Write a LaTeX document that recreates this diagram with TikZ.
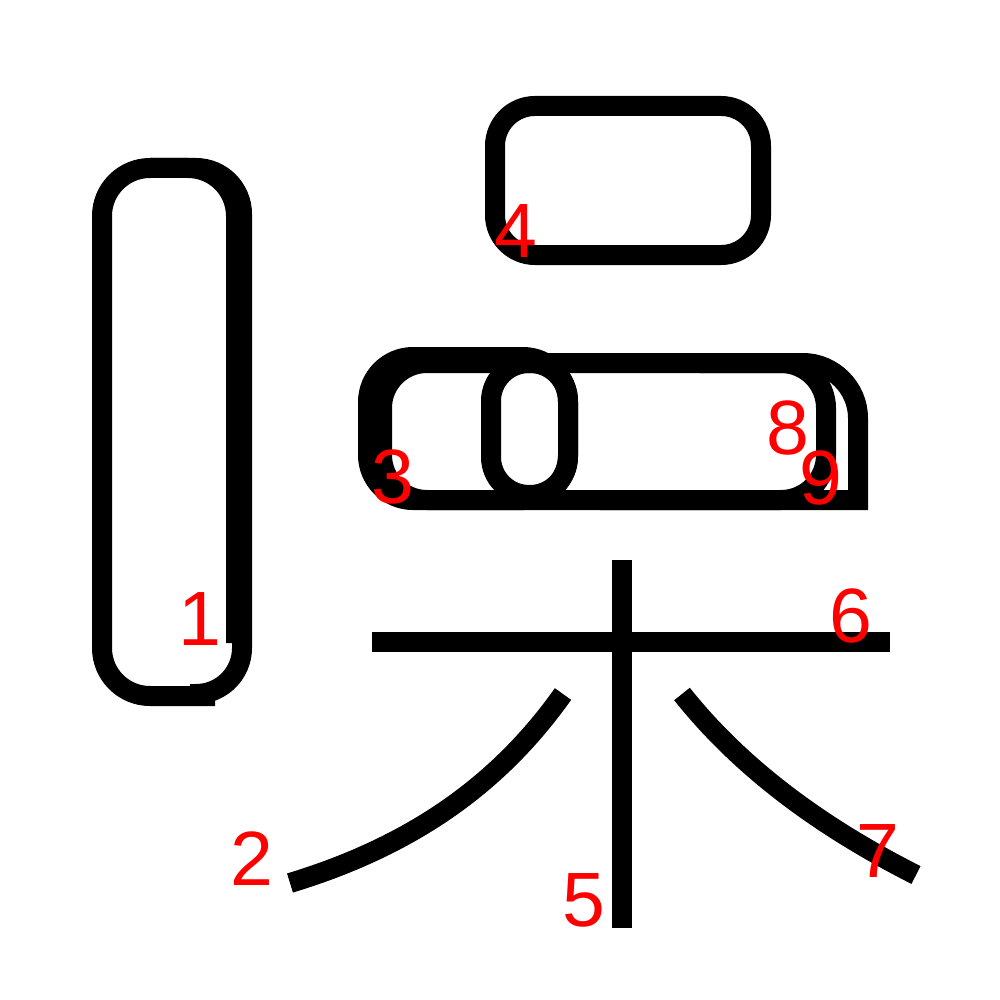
\documentclass[tikz,border=0pt]{standalone}
\usepackage{fontspec}
\setmainfont{Liberation Sans}
\begin{document}
\begin{tikzpicture}[x=1pt,y=-1pt,
  stk/.style={line width=20pt, line cap=butt, line join=miter, draw=black},
  num/.style={text=red, font=\fontsize{77}{77}\selectfont, inner sep=0pt, anchor=base}]
\useasboundingbox[fill=white] (0,0) rectangle (1000,1000);
% stroke 1 (left box)
\draw[stk, rounded corners=48] (236,643) -- (236,168) -- (102,168) -- (102,696) -- (215,696);
\draw[stk, rounded corners=46] (150,168) -- (242,168) -- (242,694) -- (190,694);
% stroke 4 (top box)
\draw[stk, rounded corners=40] (495,106) rectangle (761,255);
% strokes 3, 8, 9 (middle box)
\draw[stk, rounded corners=45] (368,357) rectangle (568,500);
\draw[stk, rounded corners=45] (382,363) rectangle (826,500);
\draw[stk, rounded corners=38] (491,363) rectangle (568,495);
\draw[stk] (700,363) -- (803,363) .. controls (833,363) and (858,388) .. (858,418) -- (858,500) -- (600,500);
% tree part
\draw[stk] (622,560) -- (622,928);
\draw[stk] (372,642) -- (890,642);
\draw[stk] (563,694) .. controls (495,790) and (405,848) .. (290,883);
\draw[stk] (682,694) .. controls (744,772) and (827,830) .. (916,875);
% labels
\node[num] (l1) at (200,645) {1};
\node[num] (l2) at (252,885) {2};
\node[num] (l3) at (393,503) {3};
\node[num] (l4) at (516,257) {4};
\node[num] (l5) at (584,926) {5};
\node[num] (l6) at (851,642) {6};
\node[num] (l7) at (878,877) {7};
\node[num] (l8) at (788,454) {8};
\node[num] (l9) at (821,504) {9};
\end{tikzpicture}
\end{document}
